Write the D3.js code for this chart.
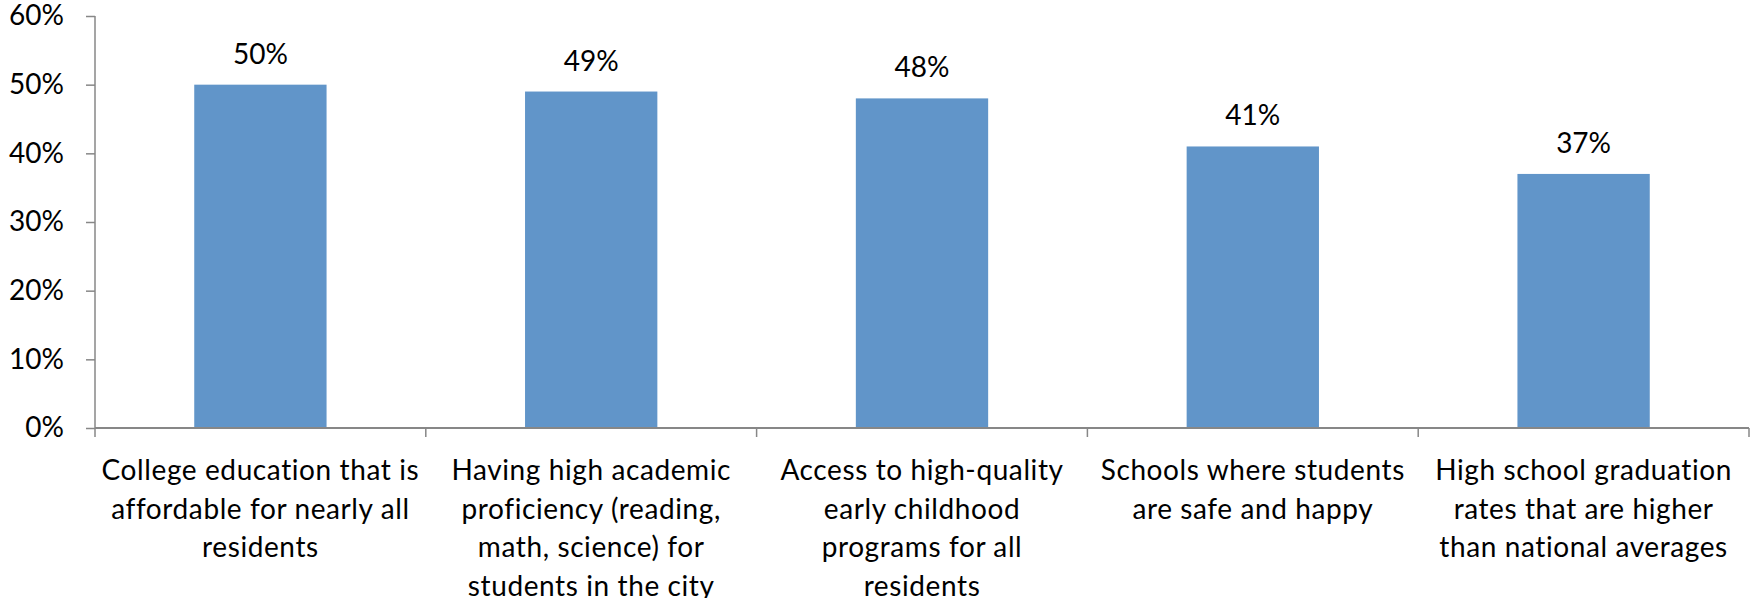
<!DOCTYPE html>
<html>
<head>
<meta charset="utf-8">
<script src="https://cdn.jsdelivr.net/npm/d3@7"></script>
<style>
  body { margin: 0; background: #fff; }
  text { font-family: Lato, "Open Sans", sans-serif; fill: #000; }
</style>
</head>
<body>
<div id="chart"></div>
<script>
(function () {

	var categories = [
		["College education that is", "affordable for nearly all", "residents"],
		["Having high academic", "proficiency (reading,", "math, science) for", "students in the city"],
		["Access to high-quality", "early childhood", "programs for all", "residents"],
		["Schools where students", "are safe and happy"],
		["High school graduation", "rates that are higher", "than national averages"]
	];
	var values = [50, 49, 48, 41, 37];
	var yTicks = [0, 10, 20, 30, 40, 50, 60];

	var margin = {top: 16, left: 95, right: 6, bottom: 170},
	width = 1755 - margin.left - margin.right,
	height = 598 - margin.top - margin.bottom;

	var svg = d3.select("#chart")
		.append("svg")
		.attr("width", 1755)
		.attr("height", 598)
		.append("g")
		.attr("transform", "translate(" + margin.left + "," + margin.top + ")");

	var x = d3.scaleBand()
		.domain(d3.range(categories.length))
		.range([0, width])
		.paddingInner(0.6)
		.paddingOuter(0.3);

	var y = d3.scaleLinear()
		.domain([0, 60])
		.range([height, 0]);

	var axisColor = "#878787";

	// y axis
	var yAxis = svg.append("g")
		.call(d3.axisLeft(y).tickValues(yTicks).tickSize(9).tickPadding(22)
			.tickFormat(function (d) { return d + "%"; }));
	yAxis.selectAll("path, line").attr("stroke", axisColor).attr("stroke-width", 1.5);
	yAxis.select(".domain").attr("d", "M0," + height + "V0");
	yAxis.selectAll("text").style("font-size", "28px").attr("fill", "#000");

	// bars
	svg.selectAll(".bar")
		.data(values)
		.enter().append("rect")
		.attr("class", "bar")
		.attr("x", function (d, i) { return x(i); })
		.attr("y", function (d) { return y(d); })
		.attr("width", x.bandwidth())
		.attr("height", function (d) { return height - y(d); })
		.attr("fill", "#6195c9");

	// x axis with boundary ticks
	var xb = d3.scaleLinear().domain([0, categories.length]).range([0, width]);
	var xAxis = svg.append("g")
		.attr("transform", "translate(0," + height + ")");
	xAxis.append("line")
		.attr("x1", 0).attr("x2", width)
		.attr("stroke", axisColor).attr("stroke-width", 2);
	xAxis.selectAll(".xtick")
		.data(d3.range(categories.length + 1))
		.enter().append("line")
		.attr("class", "xtick")
		.attr("x1", function (d) { return xb(d); })
		.attr("x2", function (d) { return xb(d); })
		.attr("y1", 0).attr("y2", 9)
		.attr("stroke", axisColor).attr("stroke-width", 1.5);

	// category labels
	var lab = xAxis.selectAll(".cat")
		.data(categories)
		.enter().append("text")
		.attr("class", "cat")
		.attr("text-anchor", "middle")
		.style("font-size", "28px")
		.style("letter-spacing", "0.6px")
		.attr("transform", function (d, i) {
			return "translate(" + (x(i) + x.bandwidth() / 2) + ",52)";
		});
	lab.selectAll("tspan")
		.data(function (d) { return d; })
		.enter().append("tspan")
		.attr("x", 0)
		.attr("y", function (d, j) { return j * 38.5; })
		.text(function (d) { return d; });

	// value labels
	svg.selectAll(".val")
		.data(values)
		.enter().append("text")
		.attr("class", "val")
		.attr("text-anchor", "middle")
		.style("font-size", "28px")
		.attr("x", function (d, i) { return x(i) + x.bandwidth() / 2; })
		.attr("y", function (d) { return y(d) - 21; })
		.text(function (d) { return d + "%"; });

})();
</script>
</body>
</html>
